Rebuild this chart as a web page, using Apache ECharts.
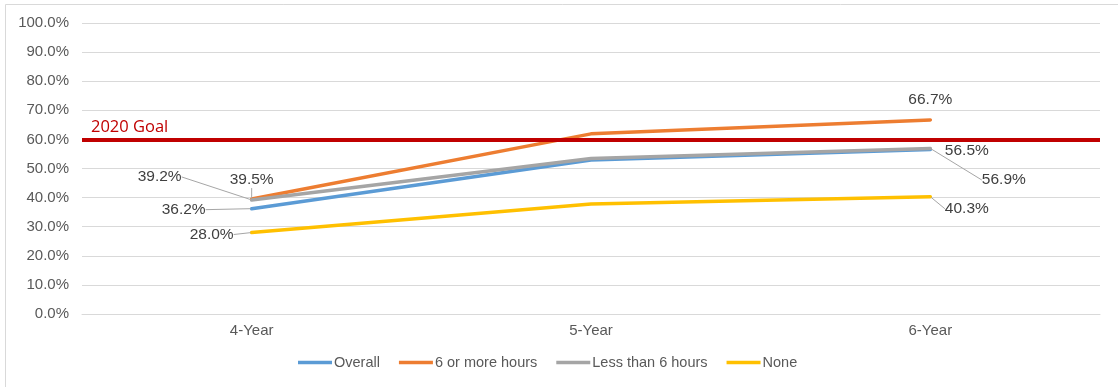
<!DOCTYPE html>
<html>
<head>
<meta charset="utf-8">
<script src="https://cdn.jsdelivr.net/npm/echarts@6/dist/echarts.min.js"></script>
<style>
  html, body { margin: 0; padding: 0; background: #fff; }
  #chart { width: 1118px; height: 387px; }
</style>
</head>
<body>
<div id="chart"></div>
<script>
// Graduation rates by credit hours
const categories = ['4-Year', '5-Year', '6-Year'];
const overall = [36.2, 52.9, 56.5];
const sixOrMore = [39.5, 61.9, 66.7];
const lessThanSix = [39.2, 53.4, 56.9];
const none = [28.0, 37.8, 40.3];
const goalValue = 60;
const goalLabel = '2020 Goal';
const yTicks = [0, 10, 20, 30, 40, 50, 60, 70, 80, 90, 100];

// which points carry a value label
const labelled = [true, false, true];

// label placement per series: centre offset from the point and leader polyline (relative)
const labelPlacement = {
  'Overall': [
    { dx: -68, dy: 1, line: [[-41, 0], [-4, 0]] },
    null,
    { dx: 36.5, dy: 1.5, line: null }
  ],
  '6 or more hours': [
    { dx: 0, dy: -19, line: [[1, -9], [1, -2]] },
    null,
    { dx: 0, dy: -20, line: null }
  ],
  'Less than 6 hours': [
    { dx: -92, dy: -23, line: [[-64, -24], [-56, -24], [-2, -3]] },
    null,
    { dx: 73.5, dy: 31.6, line: [[2, 1.6], [37, 30], [47, 30]] }
  ],
  'None': [
    { dx: -40, dy: 2, line: [[-12, 1], [-4, 0]] },
    null,
    { dx: 36.5, dy: 12, line: [[1, 1.6], [3, 7], [9, 7]] }
  ]
};

const colors = {
  'Overall': '#5B9BD5',
  '6 or more hours': '#ED7D31',
  'Less than 6 hours': '#A5A5A5',
  'None': '#FFC000'
};

const seriesData = [
  ['Overall', overall],
  ['6 or more hours', sixOrMore],
  ['Less than 6 hours', lessThanSix],
  ['None', none]
];

const chart = echarts.init(document.getElementById('chart'));

function makeSeries(name, values, idx) {
  const s = {
    name: name,
    type: 'line',
    data: values.map((v, i) => ({
      value: v,
      label: { show: labelled[i] },
      labelLine: { show: labelled[i] && !!(labelPlacement[name][i] && labelPlacement[name][i].line) }
    })),
    symbol: 'circle',
    symbolSize: 2,
    showSymbol: true,
    lineStyle: { color: colors[name], width: 3.5, cap: 'round' },
    itemStyle: { color: colors[name] },
    emphasis: { disabled: true },
    label: {
      show: true,
      formatter: p => p.value.toFixed(1) + '%',
      fontFamily: 'Liberation Sans, Arial, sans-serif',
      fontSize: 15.5,
      color: '#404040'
    },
    labelLine: {
      show: true,
      lineStyle: { color: '#A6A6A6', width: 1 }
    },
    labelLayout: function (params) {
      const pl = labelPlacement[name][params.dataIndex];
      if (!pl) return {};
      const cx = params.rect.x + params.rect.width / 2;
      const cy = params.rect.y + params.rect.height / 2;
      const out = {
        x: cx + pl.dx,
        y: cy + pl.dy,
        align: 'center',
        verticalAlign: 'middle'
      };
      if (pl.line) {
        out.labelLinePoints = pl.line.map(p => [cx + p[0], cy + p[1]]);
      }
      return out;
    },
    z: 3 + idx
  };
  if (idx === 0) {
    s.markLine = {
      silent: true,
      symbol: ['none', 'none'],
      lineStyle: { color: '#C00000', width: 4, type: 'solid' },
      label: {
        show: true,
        position: 'insideStartTop',
        formatter: goalLabel,
        color: '#C00000',
        fontFamily: 'Open Sans, sans-serif',
        fontSize: 16.5,
        distance: [9, 4]
      },
      data: [{ yAxis: goalValue }],
      z: 10
    };
  }
  return s;
}

chart.setOption({
  animation: false,
  backgroundColor: '#ffffff',
  color: seriesData.map(s => colors[s[0]]),
  graphic: [{
    type: 'rect',
    shape: { x: 5.5, y: 4.5, width: 1200, height: 500 },
    style: { fill: 'none', stroke: '#D9D9D9', lineWidth: 1 },
    silent: true,
    z: -1
  }],
  grid: { left: 82, right: 18, top: 23, bottom: 73, containLabel: false },
  legend: {
    bottom: 12,
    left: 293,
    icon: 'rect',
    itemWidth: 34,
    itemHeight: 3.5,
    itemGap: 19,
    textStyle: {
      fontFamily: 'Liberation Sans, Arial, sans-serif',
      fontSize: 14.5,
      color: '#595959',
      padding: [0, 0, 0, -3]
    },
    data: seriesData.map(s => s[0])
  },
  xAxis: {
    type: 'category',
    data: categories,
    boundaryGap: true,
    axisTick: { show: false },
    axisLine: { lineStyle: { color: '#D9D9D9', width: 1 } },
    axisLabel: {
      margin: 9,
      fontFamily: 'Liberation Sans, Arial, sans-serif',
      fontSize: 15,
      color: '#595959'
    }
  },
  yAxis: {
    type: 'value',
    min: yTicks[0],
    max: yTicks[yTicks.length - 1],
    interval: yTicks[1] - yTicks[0],
    axisLine: { show: false },
    axisTick: { show: false },
    splitLine: { lineStyle: { color: '#D9D9D9', width: 1 } },
    axisLabel: {
      margin: 13,
      formatter: v => v.toFixed(1) + '%',
      fontFamily: 'Liberation Sans, Arial, sans-serif',
      fontSize: 15,
      color: '#595959'
    }
  },
  series: seriesData.map((s, i) => makeSeries(s[0], s[1], i))
});
</script>
</body>
</html>
